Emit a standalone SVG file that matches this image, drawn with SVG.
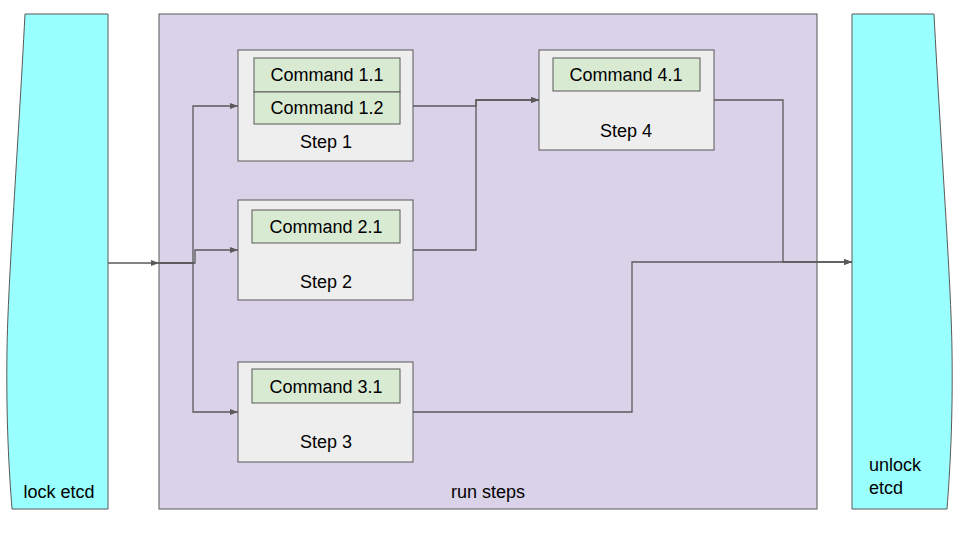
<svg xmlns="http://www.w3.org/2000/svg" width="960" height="540" viewBox="0 0 960 540">
<style>
.tape{fill:#99ffff;stroke:#595959;stroke-width:1}
.group{fill:#d9d2e9;stroke:#595959;stroke-width:1}
.step{fill:#eeeeee;stroke:#595959;stroke-width:1}
.cmd{fill:#d9ead3;stroke:#595959;stroke-width:1}
text{font-family:"Liberation Sans",Arial,sans-serif;font-size:18px;fill:#000000}
.c{text-anchor:middle}
.conn{fill:none;stroke:#595959;stroke-width:1.3}
</style>
<defs>
<marker id="arr" viewBox="0 0 8 6" refX="8" refY="3" markerWidth="8" markerHeight="6" markerUnits="userSpaceOnUse" orient="auto">
<path d="M0,0 L8,3 L0,6 z" fill="#595959"/>
</marker>
</defs>
<rect width="960" height="540" fill="#ffffff"/>
<g id="lock-etcd">
<path class="tape" d="M25,14 L108,14 L108,509 L12,509 C9,470 6,420 7,350 C8,280 18,150 25,14 Z"/>
<text class="c" x="59" y="498">lock etcd</text>
</g>
<g id="unlock-etcd">
<path class="tape" d="M852,14 L934,14 C941,150 951,280 952,350 C953,420 950,470 947,509 L852,509 Z"/>
<text x="869" y="471">unlock</text>
<text x="869" y="494">etcd</text>
</g>
<g id="run-steps">
<rect class="group" x="159" y="14" width="658" height="495"/>
<text class="c" x="488" y="498">run steps</text>
</g>
<g id="step1">
<rect class="step" x="238" y="50" width="175" height="111"/>
<rect class="cmd" x="254" y="58" width="146" height="34"/>
<rect class="cmd" x="254" y="92" width="146" height="32"/>
<text class="c" x="327" y="81">Command 1.1</text>
<text class="c" x="327" y="114">Command 1.2</text>
<text class="c" x="326" y="148">Step 1</text>
</g>
<g id="step2">
<rect class="step" x="238" y="200" width="175" height="100"/>
<rect class="cmd" x="252" y="210" width="148" height="33"/>
<text class="c" x="326" y="233">Command 2.1</text>
<text class="c" x="326" y="288">Step 2</text>
</g>
<g id="step3">
<rect class="step" x="238" y="362" width="175" height="100"/>
<rect class="cmd" x="252" y="369" width="148" height="34"/>
<text class="c" x="326" y="393">Command 3.1</text>
<text class="c" x="326" y="448">Step 3</text>
</g>
<g id="step4">
<rect class="step" x="539" y="50" width="175" height="100"/>
<rect class="cmd" x="553" y="58" width="147" height="33"/>
<text class="c" x="626" y="81">Command 4.1</text>
<text class="c" x="626" y="137">Step 4</text>
</g>
<g id="connectors">
<path class="conn" d="M108,263 L159,263" marker-end="url(#arr)"/>
<path class="conn" d="M159,263 L193,263 L193,106 L238,106" marker-end="url(#arr)"/>
<path class="conn" d="M159,263 L195,263 L195,250 L238,250" marker-end="url(#arr)"/>
<path class="conn" d="M159,263 L193,263 L193,412 L238,412" marker-end="url(#arr)"/>
<path class="conn" d="M413,106 L476,106 L476,100 L539,100" marker-end="url(#arr)"/>
<path class="conn" d="M413,250 L476,250 L476,100 L539,100" marker-end="url(#arr)"/>
<path class="conn" d="M714,100 L783,100 L783,262 L852,262" marker-end="url(#arr)"/>
<path class="conn" d="M413,412 L632,412 L632,262 L852,262" marker-end="url(#arr)"/>
</g>
</svg>
